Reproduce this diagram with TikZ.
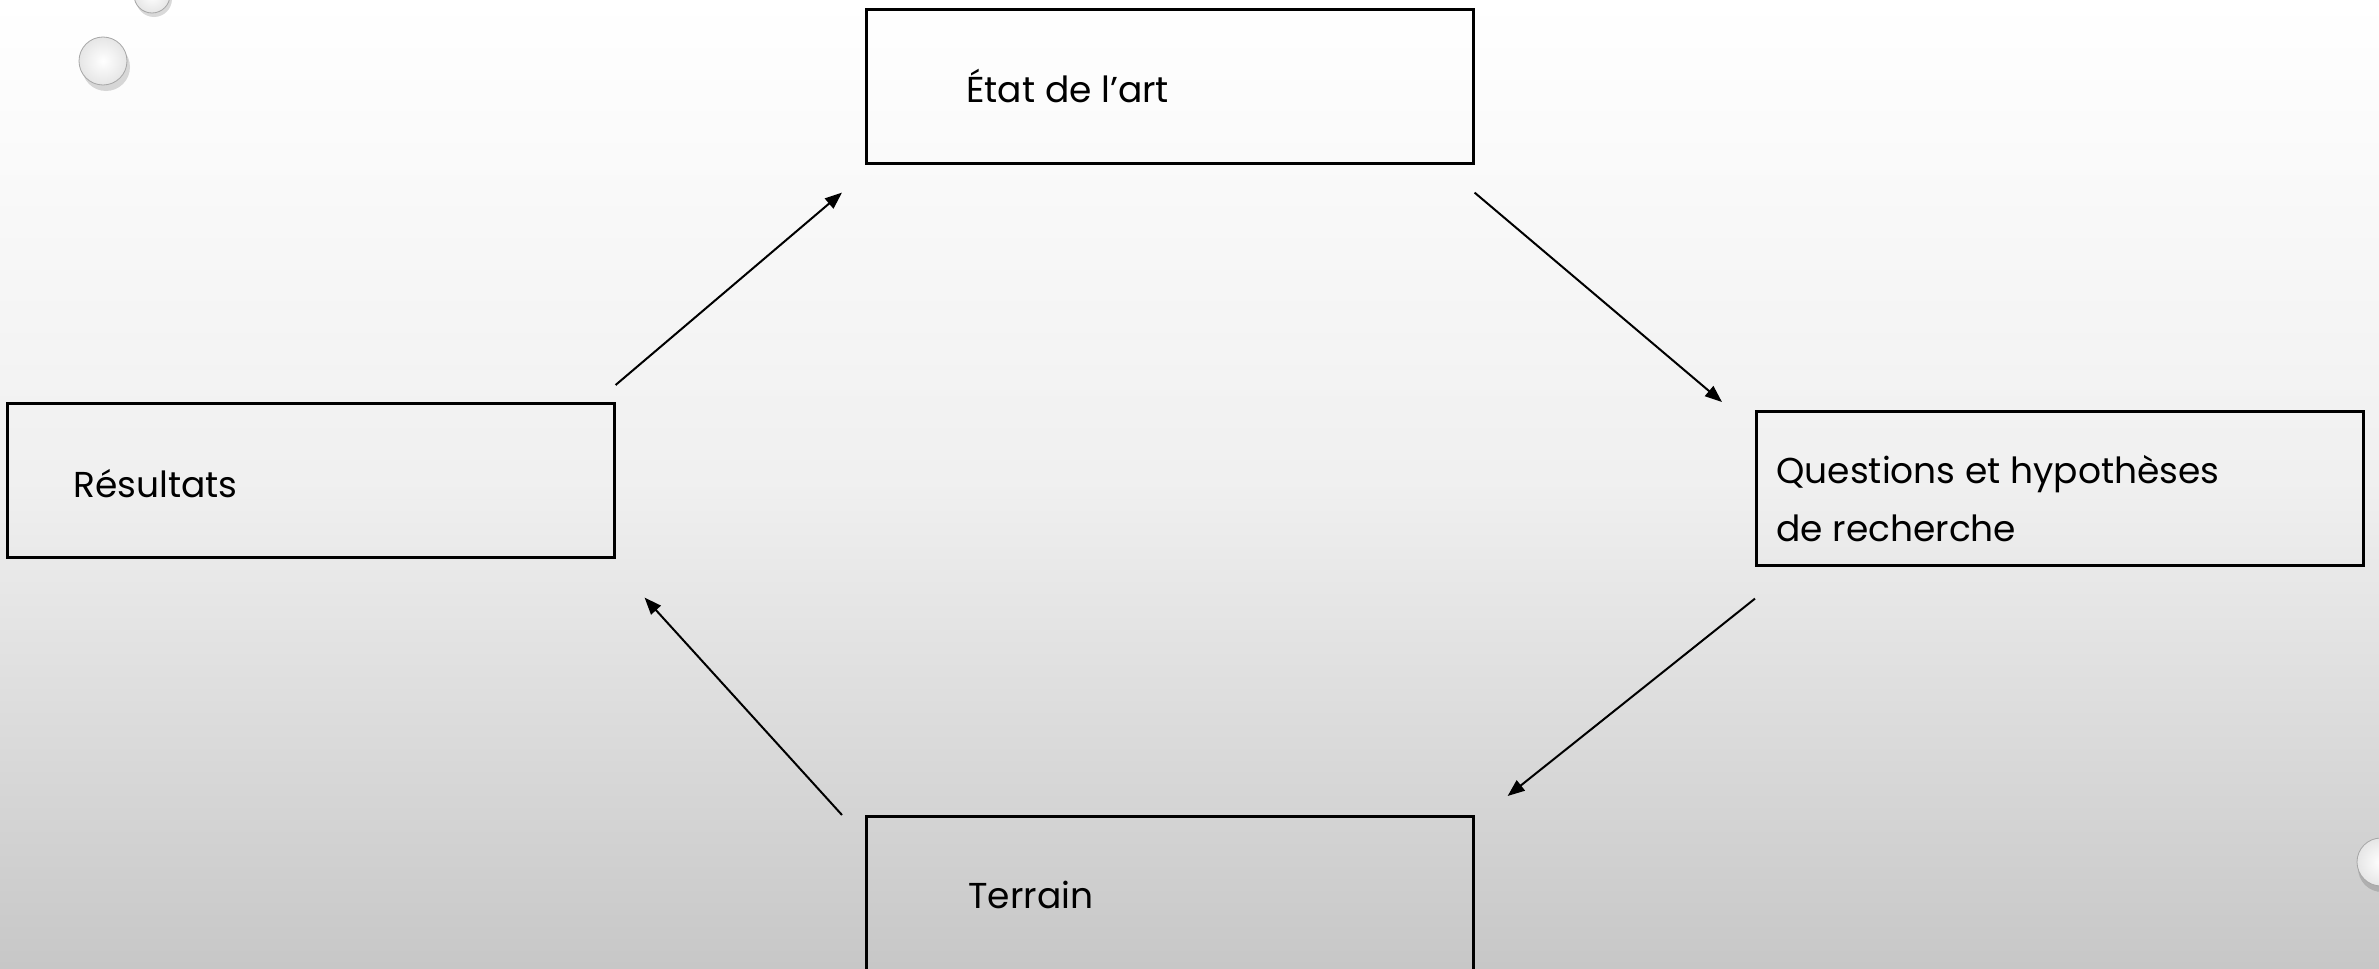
\documentclass[tikz,border=0pt]{standalone}
\usepackage{fontspec}
\setmainfont{Poppins}
\usetikzlibrary{calc,arrows.meta}
\begin{document}
\begin{tikzpicture}[x=0.5pt,y=-0.5pt,
  stagebox/.style={draw=black,line width=1.3pt,minimum width=303.5pt,minimum height=77pt,inner sep=0pt,anchor=north west},
  stagetext/.style={font=\fontsize{18}{29}\selectfont,anchor=west,align=left,inner sep=0pt},
  flow/.style={line width=1pt,-{Triangle[length=8.5pt,width=6.5pt]}},
  bubble/.style={inner color=white,outer color=white!80!gray,draw=gray!70,line width=0.4pt},
  bubshadow/.style={fill=black,opacity=0.15}]
\useasboundingbox (0,0) rectangle (2379,969);
\shade[top color=white,bottom color=white!78!black,middle color=white!94!black] (0,0) rectangle (2379,969);
% decorative bubbles
\fill[bubshadow] (106,67) circle (24);
\shade[bubble] (103,61) circle (24);
\fill[bubshadow] (154,-1) circle (18);
\shade[bubble] (152,-5) circle (18);
\fill[bubshadow] (2382,868) circle (24);
\shade[bubble] (2381,862) circle (24);
% boxes
\node[stagebox] (etat) at (865,8) {};
\node[stagebox] (res) at (6,402) {};
\node[stagebox] (quest) at (1755,410) {};
\node[stagebox] (terr) at (865,815) {};
% texts
\node[stagetext] (tetat) at (966,86) {État de l’art};
\node[stagetext] (tres) at (73,484) {Résultats};
\node[stagetext] (tquest) at (1776,499) {Questions et hypothèses\\de recherche};
\node[stagetext] (tterr) at (968,895) {Terrain};
% connectors
\draw[flow] ($(res.north east)+(0,-17)$) -- ($(etat.south west)+(-23,28)$);
\draw[flow] ($(etat.south east)+(0,28)$) -- ($(quest.north west)+(-33,-8)$);
\draw[flow] ($(quest.south west)+(0,32)$) -- ($(terr.north east)+(33,-19)$);
\draw[flow] ($(terr.north west)+(-23,0)$) -- ($(res.south east)+(29,39)$);
\end{tikzpicture}
\end{document}
